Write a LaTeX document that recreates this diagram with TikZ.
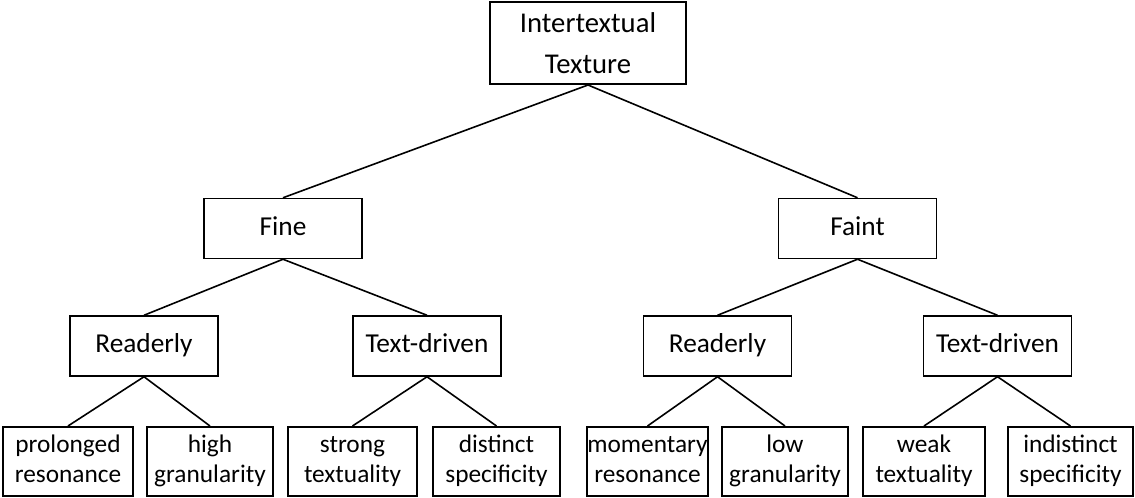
\documentclass[tikz,border=0pt]{standalone}
\usepackage{fontspec}
\setmainfont{Carlito}
\begin{document}
\begin{tikzpicture}[x=0.75pt,y=-0.75pt,
  base/.style={draw,inner sep=0pt},
  box/.style={base,line width=1.1pt,minimum width=111pt,minimum height=45pt,text height=14pt,text depth=4pt,font=\fontsize{20.5}{24}\selectfont},
  topbox/.style={base,line width=1.5pt,minimum width=147pt,minimum height=61.5pt,align=center,font=\fontsize{21.5}{31}\selectfont},
  leaf/.style={base,line width=1.5pt,minimum height=51.75pt,align=center,font=\fontsize{19}{22.5}\selectfont},
  link/.style={line width=1.2pt}]
\useasboundingbox (0,0) rectangle (1135,497);
\node[topbox] (tt) at (588,43) {Intertextual\\Texture};
\node[box,minimum width=118.5pt] (fine) at (283,228.5) {Fine};
\node[box,minimum width=118.5pt] (faint) at (857.5,228.5) {Faint};
\node[box] (rl) at (144,346) {Readerly};
\node[box] (tl) at (427,346) {Text-driven};
\node[box] (rr) at (717.5,346) {Readerly};
\node[box] (tr) at (997.5,346) {Text-driven};
% leaves
\foreach \n/\x/\w/\t in {pr/68/97.5/{prolonged\\resonance},hg/210/94.5/{high\\granularity},
  st/352.5/96.75/{strong\\textuality},ds/496.5/95.25/{distinct\\specificity},
  mr/647.5/89.25/{momentary\\resonance},lg/785/94.5/{low\\granularity},
  wt/924/91.5/{weak\\textuality},is/1070.5/93.75/{indistinct\\specificity}}
  \node[leaf,minimum width=\w pt] (\n) at (\x,461.5) {\strut\t\strut};
\foreach \a/\b in {tt/fine,tt/faint,fine/rl,fine/tl,faint/rr,faint/tr,
  rl/pr,rl/hg,tl/st,tl/ds,rr/mr,rr/lg,tr/wt,tr/is}
  \draw[link] (\a.south)--(\b.north);
\end{tikzpicture}
\end{document}
